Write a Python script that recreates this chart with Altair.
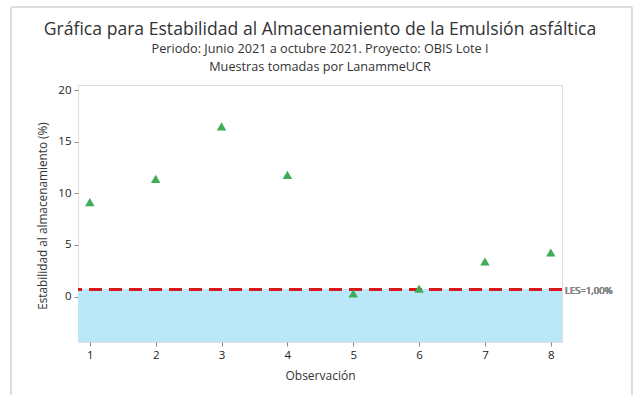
import altair as alt
import pandas as pd

observacion = [1, 2, 3, 4, 5, 6, 7, 8]
estabilidad = [9.15, 11.4, 16.5, 11.8, 0.3, 0.78, 3.4, 4.27]
les_value = 0.68
les_label = "LES=1,00%"
y_ticks = [0, 5, 10, 15, 20]

W, H = 484, 257
FONT = "Open Sans"

df = pd.DataFrame({"obs": observacion, "est": estabilidad})

xs = alt.Scale(domain=[0.82, 8.17], nice=False, zero=False)
ys = alt.Scale(domain=[-4.4, 20.5], nice=False, zero=False)

xenc = alt.X("obs:Q", scale=xs, title="Observación",
             axis=alt.Axis(values=observacion, format="d", grid=False, domain=False,
                           tickColor="#888", tickSize=4, labelPadding=3,
                           labelFontSize=11.5, labelColor="#222", titleFontSize=12,
                           titleFontWeight="normal", titleColor="#333", titlePadding=10,
                           labelFont=FONT, titleFont=FONT))
yenc = alt.Y("est:Q", scale=ys, title="Estabilidad al almacenamiento (%)",
             axis=alt.Axis(values=y_ticks, grid=False, domain=False,
                           tickColor="#888", tickSize=4, labelPadding=3,
                           labelFontSize=11.5, labelColor="#222", titleFontSize=11.8,
                           titleFontWeight="normal", titleColor="#333", titlePadding=9,
                           titleAngle=270, titleAlign="center", titleBaseline="bottom",
                           titleY=H / 2 + 2,
                           labelFont=FONT, titleFont=FONT))

base = alt.Chart(df)

band = base.mark_rect(color="#BAE8F9").encode(
    x=alt.value(0), x2=alt.value(W),
    y=alt.datum(les_value, scale=ys), y2=alt.value(H)
)

rule = base.mark_rule(color="#D7191C", strokeWidth=2.8, strokeDash=[13, 7]).encode(
    y=alt.datum(les_value, scale=ys)
)

label = base.mark_text(align="left", baseline="middle", fontSize=9.5, color="#888",
                       font=FONT, dx=3, dy=1).encode(
    x=alt.value(W), y=alt.datum(les_value, scale=ys), text=alt.value(les_label)
)

pts = base.mark_point(shape="triangle-up", filled=True, size=90, color="#3FAC58",
                      opacity=1).encode(x=xenc, y=yenc)

frame_l = base.mark_rule(color="#DDDDDD", strokeWidth=1).encode(
    x=alt.value(-67), y=alt.value(-78), y2=alt.value(H + 60))
frame_t = base.mark_rule(color="#DDDDDD", strokeWidth=1).encode(
    x=alt.value(-67), x2=alt.value(W + 70), y=alt.value(-78))
frame_r = base.mark_rule(color="#DDDDDD", strokeWidth=1).encode(
    x=alt.value(W + 70), y=alt.value(-78), y2=alt.value(H + 60))

chart = alt.layer(band, rule, pts, label, frame_l, frame_t, frame_r).properties(
    width=W, height=H,
    autosize=alt.AutoSizeParams(type="none"),
    padding={"left": 78, "top": 85, "right": 71, "bottom": 53},
    title=alt.TitleParams(
        text="Gráfica para Estabilidad al Almacenamiento de la Emulsión asfáltica",
        subtitle=["Periodo: Junio 2021 a octubre 2021. Proyecto: OBIS Lote I",
                  "Muestras tomadas por LanammeUCR"],
        fontSize=17.6, font=FONT, fontWeight=500, color="#333",
        subtitleFontSize=12.7, subtitleFont=FONT, subtitleColor="#333",
        subtitleLineHeight=18, subtitlePadding=4, offset=-67, anchor="middle",
        frame="group"
    )
).configure_view(stroke="#999", strokeWidth=1.5).configure(background="white")

chart.save("out.html", embed_options={"renderer": "svg", "actions": False})
